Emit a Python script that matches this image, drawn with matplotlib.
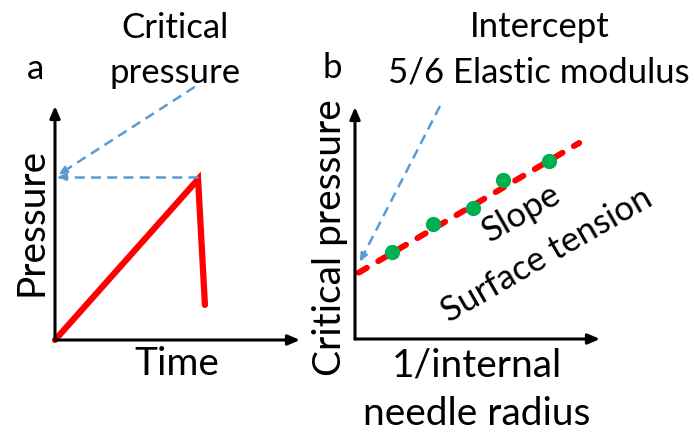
import numpy as np
import matplotlib
matplotlib.use("Agg")
import matplotlib.pyplot as plt

plt.rcParams['font.family'] = ['Lato', 'DejaVu Sans']

# panel a: pressure trace vs time (schematic units)
time = [0.0, 0.584, 0.612]
pressure = [0.0, 0.687, 0.15]

# panel b: critical pressure vs 1/internal needle radius
inv_radius = [0.150, 0.317, 0.480, 0.605, 0.793]
crit_pressure = [0.373, 0.494, 0.563, 0.685, 0.766]
fit_x = [0.015, 0.915]
fit_y = [0.286, 0.845]

RED = '#FF0000'
BLUE = '#5B9BD5'
GREEN = '#00B050'
W, H = 695, 432


def fx(x):
    return x / W


def fy(y):
    return 1 - y / H


def dashed_arrow(ax, start, end):
    # dashed shaft + small solid head
    ax.plot([start[0], end[0]], [start[1], end[1]], color=BLUE, lw=1.8,
            linestyle=(0, (4, 2.5)), clip_on=False)
    d = np.array(end) - np.array(start)
    back = np.array(end) - d / np.linalg.norm(d) * 0.03
    ax.annotate('', xy=end, xytext=tuple(back),
                arrowprops=dict(arrowstyle='-|>,head_length=0.5,head_width=0.22',
                                color=BLUE, lw=1.5, shrinkA=0, shrinkB=0),
                annotation_clip=False)


fig = plt.figure(figsize=(6.95, 4.32), dpi=100)

ax_a = fig.add_axes([fx(55), fy(340), (300 - 55) / W, (340 - 106) / H])
ax_b = fig.add_axes([fx(355), fy(339), (600 - 355) / W, (339 - 107) / H])

for ax in (ax_a, ax_b):
    ax.set_xlim(0, 1)
    ax.set_ylim(0, 1)
    ax.axis('off')
    # axis arrows
    for end in [(1, 0), (0, 1)]:
        ax.annotate('', xy=end, xytext=(0, 0), xycoords='axes fraction',
                    arrowprops=dict(arrowstyle='-|>,head_length=0.7,head_width=0.3',
                                    color='black', lw=2.2, shrinkA=0, shrinkB=0))

# panel a
ax_a.plot(time, pressure, color=RED, lw=4.5, solid_capstyle='round',
          solid_joinstyle='miter', clip_on=False)
peak = pressure[1]
dashed_arrow(ax_a, (time[1], peak + 0.01), (0.01, peak + 0.01))
dashed_arrow(ax_a, (0.571, 1.082), (0.015, peak + 0.02))

# panel b
ax_b.plot(fit_x, fit_y, color=RED, lw=4.3, linestyle=(0, (1.6, 2.2)),
          dash_capstyle='round', clip_on=False)
ax_b.plot(inv_radius, crit_pressure, 'o', color=GREEN, ms=11, mec='none',
          clip_on=False, zorder=3)
dashed_arrow(ax_b, (0.347, 1.004), (0.02, 0.333))

# texts
head = 25
lab = 28
fig.text(fx(35), fy(79), 'a', fontsize=head, ha='center', va='baseline')
fig.text(fx(175), fy(38), 'Critical', fontsize=head, ha='center', va='baseline')
fig.text(fx(175), fy(83), 'pressure', fontsize=head, ha='center', va='baseline')
fig.text(fx(332), fy(78), 'b', fontsize=head, ha='center', va='baseline')
fig.text(fx(540), fy(37), 'Intercept', fontsize=head, ha='center', va='baseline')
fig.text(fx(539), fy(83), '5/6 Elastic modulus', fontsize=head, ha='center', va='baseline')

fig.text(fx(42), fy(222), 'Pressure', fontsize=lab, ha='center', va='baseline',
         rotation=90, rotation_mode='anchor')
fig.text(fx(177), fy(375), 'Time', fontsize=lab, ha='center', va='baseline')
fig.text(fx(341), fy(238), 'Critical pressure', fontsize=lab, ha='center',
         va='baseline', rotation=90, rotation_mode='anchor')
fig.text(fx(477), fy(377), '1/internal', fontsize=lab, ha='center', va='baseline')
fig.text(fx(477), fy(425), 'needle radius', fontsize=lab, ha='center', va='baseline')

fig.text(fx(522), fy(213), 'Slope', fontsize=head, ha='center', va='center',
         rotation=30, rotation_mode='anchor')
fig.text(fx(547), fy(255), 'Surface tension', fontsize=head, ha='center', va='center',
         rotation=30, rotation_mode='anchor')

fig.savefig('out.png', dpi=100)
